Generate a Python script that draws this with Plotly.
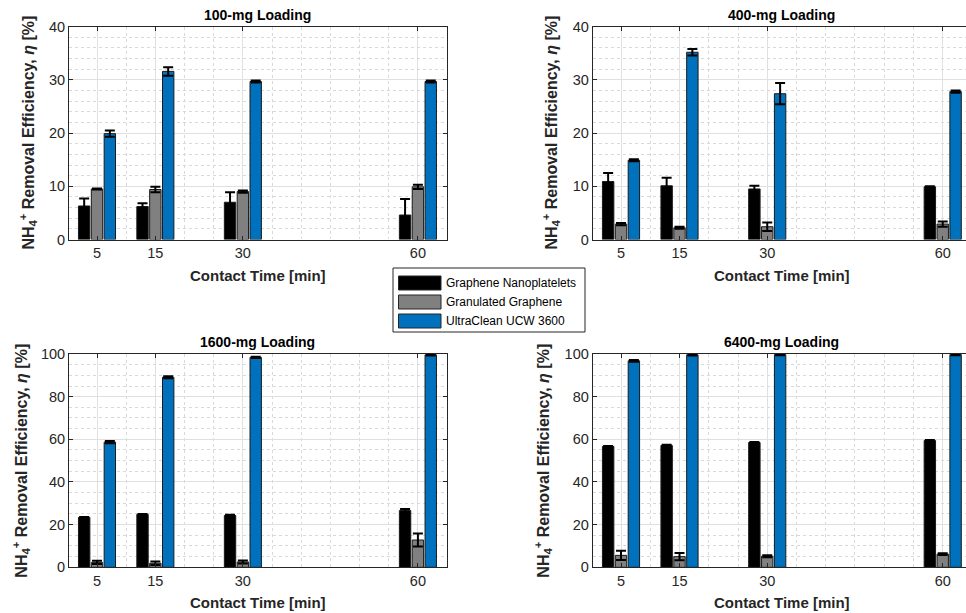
import plotly.graph_objects as go

# ---------------- data ----------------
times = [5, 15, 30, 60]
series_names = ["Graphene Nanoplatelets", "Granulated Graphene", "UltraClean UCW 3600"]
panel_titles = ["100-mg Loading", "400-mg Loading", "1600-mg Loading", "6400-mg Loading"]

gnp_100 = [6.3, 6.2, 7.0, 4.6]
gnp_100_err = [1.4, 0.6, 1.9, 3.0]
gg_100 = [9.5, 9.4, 9.0, 9.9]
gg_100_err = [0.1, 0.5, 0.2, 0.4]
ucw_100 = [19.9, 31.6, 29.7, 29.7]
ucw_100_err = [0.6, 0.8, 0.2, 0.2]

gnp_400 = [10.9, 10.1, 9.5, 9.9]
gnp_400_err = [1.6, 1.5, 0.6, 0.1]
gg_400 = [2.9, 2.2, 2.4, 2.9]
gg_400_err = [0.2, 0.2, 0.8, 0.5]
ucw_400 = [14.9, 35.2, 27.4, 27.8]
ucw_400_err = [0.2, 0.6, 2.0, 0.2]

gnp_1600 = [23.4, 24.8, 24.3, 26.6]
gnp_1600_err = [0.2, 0.2, 0.3, 0.7]
gg_1600 = [2.3, 1.9, 2.5, 12.8]
gg_1600_err = [0.8, 0.8, 0.7, 3.0]
ucw_1600 = [58.7, 89.1, 98.4, 99.6]
ucw_1600_err = [0.5, 0.5, 0.3, 0.3]

gnp_6400 = [56.6, 57.1, 58.5, 59.4]
gnp_6400_err = [0.3, 0.3, 0.3, 0.3]
gg_6400 = [5.6, 5.0, 5.2, 6.2]
gg_6400_err = [2.2, 1.7, 0.5, 0.4]
ucw_6400 = [96.8, 99.6, 99.7, 99.7]
ucw_6400_err = [0.4, 0.3, 0.3, 0.3]

y_max = [40, 40, 100, 100]
y_minor = [2, 2, 5, 5]

# ---------------- styling ----------------
colors = ["#000000", "#808080", "#0072BD"]
FONT = "Liberation Sans, Arial, sans-serif"
TXT = "#262626"
bar_w = 1.95
centers = [-2.2, 0.0, 2.2]

panels = [
    (gnp_100, gnp_100_err, gg_100, gg_100_err, ucw_100, ucw_100_err),
    (gnp_400, gnp_400_err, gg_400, gg_400_err, ucw_400, ucw_400_err),
    (gnp_1600, gnp_1600_err, gg_1600, gg_1600_err, ucw_1600, ucw_1600_err),
    (gnp_6400, gnp_6400_err, gg_6400, gg_6400_err, ucw_6400, ucw_6400_err),
]

W, H = 966, 613
def px(x):
    return x / W
def py(y):
    return 1 - y / H

x_domains = [[px(69), px(446.5)], [px(592.7), 1.0], [px(69), px(446.5)], [px(592.7), 1.0]]
y_domains = [[py(239.5), py(26.7)], [py(239.5), py(26.7)], [py(567.3), py(354)], [py(567.3), py(354)]]
x_ranges = [[0.2, 64.9], [0.16, 63.98], [0.2, 64.9], [0.16, 63.98]]

fig = go.Figure()

for i, p in enumerate(panels):
    xa = "x" if i == 0 else f"x{i+1}"
    ya = "y" if i == 0 else f"y{i+1}"
    vals = [p[0], p[2], p[4]]
    errs = [p[1], p[3], p[5]]
    for s in range(3):
        fig.add_trace(go.Bar(
            x=times, y=vals[s], name=series_names[s],
            xaxis=xa, yaxis=ya,
            width=bar_w, offset=centers[s] - bar_w / 2,
            marker=dict(color=colors[s], line=dict(color="#1a1a1a", width=1)),
            error_y=dict(type="data", array=errs[s], visible=True,
                         color="#000000", thickness=2, width=5),
            showlegend=False,
        ))

layout = dict(
    width=W, height=H, autosize=False,
    margin=dict(l=0, r=0, t=0, b=0, pad=0, autoexpand=False),
    paper_bgcolor="white", plot_bgcolor="white",
    barmode="overlay",
    font=dict(family=FONT, color=TXT, size=14),
    showlegend=False,
)

for i in range(4):
    xk = "xaxis" if i == 0 else f"xaxis{i+1}"
    yk = "yaxis" if i == 0 else f"yaxis{i+1}"
    ya = "y" if i == 0 else f"y{i+1}"
    xa = "x" if i == 0 else f"x{i+1}"
    left = i in (0, 2)
    layout[xk] = dict(
        domain=x_domains[i], range=x_ranges[i], anchor=ya, automargin=False,
        tickmode="array", tickvals=times, ticktext=[str(t) for t in times],
        ticks="inside", ticklen=4, tickcolor=TXT,
        showline=True, linecolor=TXT, linewidth=1, mirror="ticks",
        showgrid=True, gridcolor="#e0e0e0", gridwidth=1,
        minor=dict(tick0=0, dtick=5, showgrid=True, gridcolor="#d9d9d9",
                   griddash="dot", gridwidth=1),
        tickfont=dict(size=14.5, color=TXT), zeroline=False, fixedrange=True,
    )
    layout[yk] = dict(
        domain=y_domains[i], range=[0, y_max[i]], anchor=xa, automargin=False,
        dtick=20 if y_max[i] == 100 else 10,
        ticks="inside", ticklen=4, tickcolor=TXT,
        showline=True, linecolor=TXT, linewidth=1,
        mirror="ticks" if left else False,
        showgrid=True, gridcolor="#e0e0e0", gridwidth=1,
        minor=dict(dtick=y_minor[i], showgrid=True, gridcolor="#d9d9d9",
                   griddash="dot", gridwidth=1),
        tickfont=dict(size=14.5, color=TXT), zeroline=False, fixedrange=True,
    )

fig.update_layout(**layout)

# titles and axis labels
title_y = [15.5, 15.5, 341.5, 341.5]
xlab_y = [275, 275, 602, 602]
ylab_x = [28.5, 551.5, 21, 543]
title_x = [257.7, 781.8, 257.7, 781.8]
ytitle = "NH<sub>4</sub><sup>+</sup> Removal Efficiency, <i>η</i> [%]"
for i in range(4):
    ymid = (y_domains[i][0] + y_domains[i][1]) / 2
    fig.add_annotation(x=px(title_x[i]), y=py(title_y[i]), xref="paper", yref="paper",
                       text=f"<b>{panel_titles[i]}</b>", showarrow=False,
                       font=dict(size=14, color="#000000"), xanchor="center", yanchor="middle")
    fig.add_annotation(x=px(title_x[i]), y=py(xlab_y[i]), xref="paper", yref="paper",
                       text="<b>Contact Time [min]</b>", showarrow=False,
                       font=dict(size=15, color=TXT), xanchor="center", yanchor="middle")
    fig.add_annotation(x=px(ylab_x[i]), y=ymid, xref="paper", yref="paper",
                       text=f"<b>{ytitle}</b>", showarrow=False, textangle=-90,
                       font=dict(size=16, color=TXT), xanchor="center", yanchor="middle")

# legend box (drawn manually to match the wide colour patches)
fig.add_shape(type="rect", xref="paper", yref="paper",
              x0=px(393), x1=px(585), y0=py(332), y1=py(268),
              line=dict(color="#262626", width=1), fillcolor="white")
row_tops = [276, 295, 314]
for s in range(3):
    fig.add_shape(type="rect", xref="paper", yref="paper",
                  x0=px(398.5), x1=px(441), y0=py(row_tops[s] + 14), y1=py(row_tops[s]),
                  line=dict(color="#262626", width=1), fillcolor=colors[s])
    fig.add_annotation(x=px(444), y=py(row_tops[s] + 7), xref="paper", yref="paper",
                       text=series_names[s], showarrow=False, xanchor="left", yanchor="middle",
                       font=dict(size=12, color="#000000"))

fig.write_html(
    "out.html",
    config={"responsive": False},
    post_script="document.body.style.margin='0';document.body.style.padding='0';"
                "document.documentElement.style.margin='0';",
)
